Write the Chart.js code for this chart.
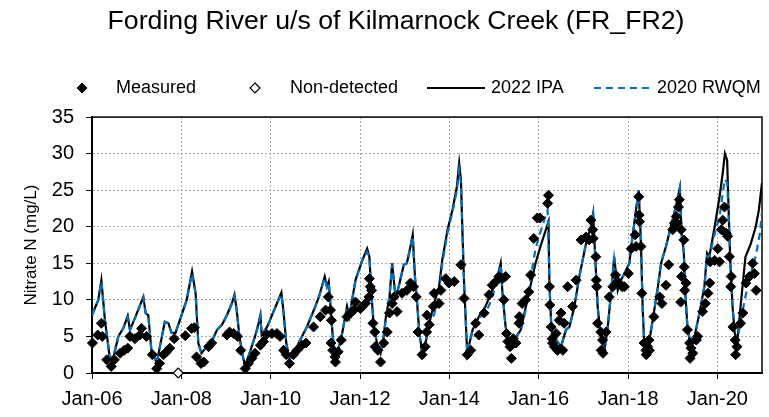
<!DOCTYPE html>
<html>
<head>
<meta charset="utf-8">
<script src="https://cdn.jsdelivr.net/npm/chart.js@4.4.1/dist/chart.umd.min.js"></script>
<style>
  html, body { margin: 0; padding: 0; background: #fff; }
</style>
</head>
<body>
<canvas id="nitrateChart" width="769" height="417"></canvas>
<script>
const FONT = "'Liberation Sans', Arial, sans-serif";

// x axis: decimal years, labelled every 2 years
const xTickYears  = [2006, 2008, 2010, 2012, 2014, 2016, 2018, 2020];
const xTickLabels = ['Jan-06', 'Jan-08', 'Jan-10', 'Jan-12', 'Jan-14', 'Jan-16', 'Jan-18', 'Jan-20'];

// 2022 IPA (solid black)
const ipaYears = [
  2006.00, 2006.14, 2006.21, 2006.29, 2006.40, 2006.48, 2006.59, 2006.70, 2006.80, 2006.85, 2006.96,
  2007.15, 2007.20, 2007.26, 2007.33, 2007.45, 2007.52, 2007.63, 2007.71, 2007.78, 2007.87,
  2008.12, 2008.24, 2008.32, 2008.38, 2008.45, 2008.57, 2008.68, 2008.80, 2008.91,
  2009.02, 2009.13, 2009.19, 2009.24, 2009.30, 2009.38, 2009.43, 2009.50, 2009.65, 2009.73, 2009.77, 2009.80, 2009.92,
  2010.14, 2010.24, 2010.29, 2010.35, 2010.42, 2010.55, 2010.66, 2010.81,
  2011.00, 2011.08, 2011.21, 2011.26, 2011.30, 2011.34, 2011.39, 2011.44, 2011.51, 2011.60, 2011.71, 2011.76, 2011.90,
  2012.05, 2012.16, 2012.21, 2012.26, 2012.31, 2012.38, 2012.46, 2012.53, 2012.58, 2012.66, 2012.72, 2012.78, 2012.83, 2012.90, 2012.98,
  2013.05, 2013.13, 2013.18, 2013.23, 2013.28, 2013.33, 2013.40, 2013.48, 2013.55, 2013.66, 2013.77, 2013.84, 2013.96,
  2014.07, 2014.17, 2014.22, 2014.26, 2014.29, 2014.33, 2014.37, 2014.40, 2014.52, 2014.66, 2014.81, 2014.93,
  2015.06, 2015.15, 2015.19, 2015.26, 2015.34, 2015.45, 2015.60, 2015.71, 2015.82, 2015.93,
  2016.05, 2016.22, 2016.24, 2016.28, 2016.31, 2016.39, 2016.50, 2016.61, 2016.69, 2016.80, 2016.91,
  2017.06, 2017.17, 2017.22, 2017.27, 2017.32, 2017.39, 2017.47, 2017.54, 2017.62, 2017.69, 2017.77, 2017.84, 2017.92,
  2018.03, 2018.10, 2018.18, 2018.24, 2018.29, 2018.33, 2018.36, 2018.40, 2018.48, 2018.56, 2018.67, 2018.74, 2018.85, 2018.96,
  2019.07, 2019.16, 2019.20, 2019.25, 2019.28, 2019.33, 2019.38, 2019.49, 2019.60, 2019.71, 2019.77, 2019.82, 2019.94,
  2020.05, 2020.12, 2020.17, 2020.22, 2020.25, 2020.29, 2020.34, 2020.39, 2020.45, 2020.52, 2020.63, 2020.75, 2020.86, 2020.93, 2021.00
];
const ipaValues = [
  7.9, 10.0, 12.7, 7.2, 2.0, 2.2, 5.0, 6.1, 7.8, 5.9, 7.5,
  10.4, 8.2, 7.9, 3.1, 1.4, 3.6, 7.0, 6.8, 5.5, 5.5,
  10.0, 13.9, 10.9, 4.1, 2.7, 3.6, 4.3, 5.9, 6.6,
  7.9, 9.5, 10.7, 8.6, 5.0, 2.2, 0.9, 2.2, 5.0, 6.8, 7.9, 5.2, 6.3,
  9.5, 11.0, 8.2, 4.1, 1.8, 3.1, 4.5, 6.3,
  9.1, 10.4, 13.2, 11.8, 12.5, 9.1, 5.0, 2.7, 3.1, 5.4, 9.1, 7.7, 12.7,
  15.4, 17.0, 15.9, 10.4, 6.3, 4.1, 2.7, 5.0, 7.7, 10.4, 15.0, 11.3, 10.9, 12.7, 14.8,
  15.0, 17.3, 18.9, 13.2, 9.5, 5.4, 2.5, 4.5, 6.8, 9.5, 11.8, 15.4, 19.6,
  22.3, 25.5, 28.7, 26.4, 20.0, 12.3, 6.8, 2.7, 5.9, 7.7, 9.1, 10.9,
  12.7, 15.0, 10.9, 6.3, 4.1, 4.5, 5.9, 9.0, 12.0, 15.0,
  17.5, 20.7, 12.3, 6.8, 5.0, 4.5, 3.6, 5.9, 6.3, 9.1, 13.2,
  17.7, 20.0, 21.8, 15.4, 9.1, 5.0, 3.1, 5.9, 10.9, 15.9, 11.3, 12.7, 13.6,
  15.0, 18.6, 22.3, 25.0, 17.7, 8.6, 4.5, 2.7, 4.5, 7.5, 11.8, 15.0, 17.3, 20.0,
  22.7, 25.3, 19.1, 16.4, 11.3, 6.3, 4.5, 5.0, 8.2, 11.8, 16.4, 15.9, 20.0,
  24.1, 27.3, 30.0, 29.1, 22.7, 15.4, 9.1, 5.4, 4.5, 9.1, 15.9, 17.7, 20.0, 22.3, 26.0
];

// 2020 RWQM (dashed blue)
const rwqmYears = [
  2006.00, 2006.14, 2006.21, 2006.29, 2006.40, 2006.48, 2006.59, 2006.70, 2006.80, 2006.85, 2006.96,
  2007.15, 2007.20, 2007.26, 2007.33, 2007.45, 2007.52, 2007.63, 2007.71, 2007.78, 2007.87,
  2008.12, 2008.24, 2008.32, 2008.38, 2008.45, 2008.57, 2008.68, 2008.80, 2008.91,
  2009.02, 2009.13, 2009.19, 2009.24, 2009.30, 2009.38, 2009.43, 2009.50, 2009.65, 2009.73, 2009.77, 2009.80, 2009.92,
  2010.14, 2010.24, 2010.29, 2010.35, 2010.42, 2010.55, 2010.66, 2010.81,
  2011.00, 2011.08, 2011.21, 2011.26, 2011.30, 2011.34, 2011.39, 2011.44, 2011.51, 2011.60, 2011.71, 2011.76, 2011.90,
  2012.05, 2012.16, 2012.21, 2012.26, 2012.31, 2012.38, 2012.46, 2012.53, 2012.58, 2012.66, 2012.72, 2012.78, 2012.83, 2012.90, 2012.98,
  2013.05, 2013.13, 2013.18, 2013.23, 2013.28, 2013.33, 2013.40, 2013.48, 2013.55, 2013.66, 2013.77, 2013.84, 2013.96,
  2014.07, 2014.17, 2014.22, 2014.26, 2014.29, 2014.33, 2014.37, 2014.40, 2014.52, 2014.66, 2014.81, 2014.93,
  2015.06, 2015.15, 2015.19, 2015.26, 2015.34, 2015.45, 2015.60, 2015.71, 2015.82, 2015.93,
  2016.05, 2016.20, 2016.24, 2016.28, 2016.31, 2016.39, 2016.50, 2016.61, 2016.69, 2016.80, 2016.91,
  2017.06, 2017.17, 2017.22, 2017.27, 2017.32, 2017.39, 2017.47, 2017.54, 2017.62, 2017.69, 2017.77, 2017.84, 2017.92,
  2018.03, 2018.10, 2018.18, 2018.24, 2018.29, 2018.33, 2018.36, 2018.40, 2018.48, 2018.56, 2018.67, 2018.74, 2018.85, 2018.96,
  2019.07, 2019.16, 2019.20, 2019.25, 2019.28, 2019.33, 2019.38, 2019.49, 2019.60, 2019.71, 2019.77, 2019.82, 2019.94,
  2020.05, 2020.12, 2020.17, 2020.22, 2020.25, 2020.29, 2020.34, 2020.39, 2020.45, 2020.52, 2020.63, 2020.75, 2020.86, 2020.95, 2021.00
];
const rwqmValues = [
  7.9, 10.0, 12.5, 7.2, 2.0, 2.2, 5.0, 6.1, 7.6, 5.9, 7.5,
  10.3, 8.2, 7.9, 3.1, 1.4, 3.6, 7.0, 6.8, 5.5, 5.5,
  10.0, 13.6, 10.9, 4.1, 2.7, 3.6, 4.3, 5.9, 6.6,
  7.9, 9.5, 10.5, 8.6, 5.0, 2.2, 0.9, 2.2, 5.0, 6.6, 7.7, 5.2, 6.3,
  9.5, 10.8, 8.2, 4.1, 1.8, 3.1, 4.5, 6.3,
  9.1, 10.4, 13.0, 11.8, 12.3, 9.1, 5.0, 2.7, 3.1, 5.4, 9.0, 7.7, 12.7,
  15.4, 16.6, 15.9, 10.4, 6.3, 4.1, 2.7, 5.0, 7.5, 10.4, 14.8, 11.3, 10.9, 12.7, 14.8,
  15.0, 17.3, 18.7, 13.2, 9.5, 5.4, 2.5, 4.5, 6.5, 8.0, 10.5, 14.8, 19.2,
  22.0, 25.0, 27.8, 26.0, 20.0, 12.3, 6.8, 2.7, 5.9, 7.5, 8.2, 9.8,
  12.4, 14.8, 10.9, 6.3, 4.1, 4.5, 5.9, 8.6, 13.0, 17.0,
  19.5, 22.3, 12.3, 6.8, 5.0, 4.5, 3.6, 5.9, 6.3, 9.1, 13.2,
  17.7, 20.0, 21.6, 15.4, 9.1, 5.0, 3.1, 5.9, 10.9, 15.6, 11.3, 12.7, 13.6,
  15.0, 18.6, 22.3, 25.0, 17.7, 8.6, 4.5, 2.7, 4.5, 7.5, 11.8, 15.0, 17.3, 20.0,
  22.7, 25.3, 19.1, 16.4, 11.3, 6.3, 4.5, 5.0, 8.2, 11.8, 16.0, 15.9, 19.0,
  21.4, 24.5, 26.5, 26.0, 22.0, 15.0, 9.1, 5.4, 4.5, 7.0, 10.5, 13.5, 16.0, 19.0, 22.0
];

// measured samples (filled diamonds)
const measuredYears = [
  2006.01, 2006.13, 2006.21, 2006.23, 2006.33, 2006.43, 2006.50, 2006.63, 2006.72, 2006.80, 2006.85, 2006.96,
  2007.07, 2007.11, 2007.22, 2007.35, 2007.45, 2007.51, 2007.60, 2007.67, 2007.74, 2007.84,
  2008.09, 2008.23, 2008.29, 2008.34, 2008.44, 2008.50, 2008.61, 2008.68,
  2009.02, 2009.08, 2009.17, 2009.26, 2009.33, 2009.43, 2009.50, 2009.58, 2009.65, 2009.77, 2009.84, 2009.91,
  2010.03, 2010.14, 2010.21, 2010.29, 2010.35, 2010.42, 2010.51, 2010.59, 2010.70, 2010.79, 2010.96,
  2011.11, 2011.23, 2011.29, 2011.34, 2011.36, 2011.35, 2011.39, 2011.44, 2011.45, 2011.51, 2011.58, 2011.71, 2011.79, 2011.86, 2011.90,
  2012.01, 2012.12, 2012.20, 2012.21, 2012.23, 2012.26, 2012.29, 2012.33, 2012.34, 2012.40, 2012.46, 2012.53, 2012.61, 2012.66, 2012.72, 2012.76, 2012.83, 2012.94,
  2013.05, 2013.13, 2013.20, 2013.26, 2013.30, 2013.39, 2013.46, 2013.49, 2013.50, 2013.55, 2013.64, 2013.66, 2013.77, 2013.81, 2013.92, 2013.99,
  2014.11, 2014.26, 2014.33, 2014.40, 2014.48, 2014.59, 2014.66, 2014.78, 2014.89, 2014.96,
  2015.04, 2015.11, 2015.19, 2015.22, 2015.26, 2015.28, 2015.31, 2015.36, 2015.39, 2015.43, 2015.49, 2015.56, 2015.57, 2015.63, 2015.71, 2015.78, 2015.82, 2015.89, 2015.97,
  2016.03, 2016.20, 2016.22, 2016.24, 2016.25, 2016.28, 2016.30, 2016.31, 2016.35, 2016.39, 2016.42, 2016.46, 2016.50, 2016.54, 2016.57, 2016.65, 2016.76, 2016.84, 2016.95,
  2017.06, 2017.13, 2017.17, 2017.21, 2017.22, 2017.28, 2017.29, 2017.30, 2017.32, 2017.39, 2017.40, 2017.43, 2017.44, 2017.51, 2017.58, 2017.66, 2017.72, 2017.77, 2017.87, 2017.92,
  2018.01, 2018.07, 2018.16, 2018.18, 2018.24, 2018.25, 2018.26, 2018.29, 2018.31, 2018.36, 2018.40, 2018.41, 2018.44, 2018.47, 2018.48, 2018.58, 2018.71, 2018.76, 2018.85, 2018.91,
  2019.00, 2019.04, 2019.08, 2019.10, 2019.13, 2019.15, 2019.19, 2019.20, 2019.18, 2019.25, 2019.26, 2019.27, 2019.30, 2019.33, 2019.38, 2019.39, 2019.41, 2019.45, 2019.53, 2019.56, 2019.67, 2019.73, 2019.79, 2019.83, 2019.84, 2019.94,
  2020.01, 2020.05, 2020.09, 2020.12, 2020.16, 2020.20, 2020.23, 2020.27, 2020.30, 2020.31, 2020.35, 2020.40, 2020.41, 2020.44, 2020.52, 2020.57, 2020.64, 2020.72, 2020.79, 2020.83, 2020.87
];
const measuredValues = [
  4.1, 5.2, 6.8, 5.0, 1.8, 0.9, 1.8, 2.7, 3.1, 3.4, 5.0, 4.7,
  5.2, 6.1, 5.0, 2.5, 0.6, 1.3, 2.5, 2.9, 3.4, 4.7,
  5.1, 6.1, 6.2, 2.2, 1.3, 1.5, 3.6, 4.1,
  5.2, 5.6, 5.4, 5.0, 3.1, 0.6, 1.3, 2.0, 2.7, 3.8, 4.3, 5.3,
  5.4, 5.4, 5.0, 3.1, 2.5, 1.3, 2.5, 3.1, 3.8, 4.1, 6.3,
  7.7, 8.6, 10.4, 8.6, 7.2, 4.1, 3.1, 2.2, 1.5, 2.9, 4.5, 7.7, 8.2, 8.6, 9.7,
  8.8, 9.5, 10.4, 12.9, 11.8, 11.3, 6.8, 5.6, 3.6, 3.1, 1.5, 4.1, 5.6, 8.2, 9.5, 10.4, 8.4, 10.9,
  11.3, 12.3, 11.8, 10.4, 5.6, 2.5, 3.6, 5.6, 7.9, 6.6, 9.1, 10.9, 9.5, 11.3, 12.9, 12.3,
  12.5, 14.8, 10.2, 2.5, 3.1, 6.8, 5.2, 8.2, 10.7, 12.0,
  12.5, 13.2, 12.9, 10.0, 13.2, 5.4, 4.3, 3.6, 2.0, 4.7, 4.1, 6.8, 7.7, 9.5, 10.0, 11.1, 13.4, 18.4, 21.2,
  21.2, 23.2, 24.3, 11.8, 9.3, 6.3, 4.7, 4.1, 3.6, 5.4, 3.1, 7.2, 8.2, 3.1, 6.8, 11.8, 9.1, 12.7, 18.2,
  18.6, 18.2, 20.9, 19.6, 18.4, 15.9, 12.7, 11.8, 6.8, 5.6, 3.1, 4.5, 2.7, 5.6, 10.4, 11.8, 13.4, 12.5, 11.8, 11.8,
  13.6, 17.0, 18.9, 17.3, 24.1, 21.6, 20.7, 17.3, 10.9, 4.1, 3.1, 2.5, 3.6, 4.5, 3.1, 7.7, 10.4, 9.5, 12.0, 14.8,
  19.6, 20.5, 21.4, 20.5, 22.7, 23.7, 19.6, 13.2, 9.7, 18.2, 14.5, 11.3, 12.3, 5.9, 4.1, 2.0, 3.4, 2.7, 4.5, 5.0, 8.4, 9.5, 10.9, 12.3, 15.2, 15.4,
  17.0, 15.2, 19.6, 20.9, 22.7, 19.1, 18.7, 15.9, 11.8, 13.2, 6.3, 4.5, 2.5, 3.6, 6.8, 8.2, 12.3, 13.2, 15.0, 13.6, 11.3
];

// non-detected sample (open diamond)
const nondetYears  = [2007.93];
const nondetValues = [0.0];

const toPoints = (xs, ys) => xs.map((x, i) => ({ x, y: ys[i] }));

function diamondPath(c, x, y, r) {
  c.beginPath();
  c.moveTo(x, y - r); c.lineTo(x + r, y); c.lineTo(x, y + r); c.lineTo(x - r, y);
  c.closePath();
}

// plot area frame (top / right sides as well)
const plotFrame = {
  id: 'plotFrame',
  beforeDatasetsDraw(chart) {
    const { left, top, right, bottom } = chart.chartArea;
    const c = chart.ctx;
    c.save();
    c.strokeStyle = '#000';
    c.lineWidth = 1.5;
    c.strokeRect(left, top, right - left, bottom - top);
    c.restore();
  }
};

// legend row laid out like the original one
const legendSpec = [
  { ds: 0, mark: 82,  text: 116 },
  { ds: 1, mark: 255, text: 290 },
  { ds: 2, from: 427, to: 485, text: 491 },
  { ds: 3, from: 594, to: 652, text: 657 }
];
const legendRow = {
  id: 'legendRow',
  afterDraw(chart) {
    const c = chart.ctx, y = 88;
    c.save();
    legendSpec.forEach(it => {
      const ds = chart.data.datasets[it.ds];
      if (it.mark != null) {
        diamondPath(c, it.mark, y, ds.pointRadius);
        c.fillStyle = ds.backgroundColor;
        c.fill();
        c.lineWidth = ds.borderWidth;
        c.strokeStyle = ds.borderColor;
        c.stroke();
      } else {
        c.beginPath();
        c.setLineDash(ds.borderDash || []);
        c.lineWidth = ds.borderWidth;
        c.strokeStyle = ds.borderColor;
        c.moveTo(it.from, y); c.lineTo(it.to, y);
        c.stroke();
        c.setLineDash([]);
      }
      c.font = `18px ${FONT}`;
      c.fillStyle = '#000';
      c.textBaseline = 'middle';
      c.textAlign = 'left';
      c.fillText(ds.label, it.text, y);
    });
    c.restore();
  }
};

const gridStyle = { color: '#a6a6a6', lineWidth: 1, tickColor: '#000', tickLength: 6, tickWidth: 1 };
const borderStyle = { color: '#000', width: 2, dash: [2, 2] };

new Chart(document.getElementById('nitrateChart'), {
  type: 'scatter',
  data: {
    datasets: [
      {
        label: 'Measured',
        data: toPoints(measuredYears, measuredValues),
        pointStyle: 'rectRot', pointRadius: 5,
        backgroundColor: '#000', borderColor: '#000', borderWidth: 1,
        showLine: false, clip: false, order: 0
      },
      {
        label: 'Non-detected',
        data: toPoints(nondetYears, nondetValues),
        pointStyle: 'rectRot', pointRadius: 5,
        backgroundColor: '#fff', borderColor: '#000', borderWidth: 1.2,
        showLine: false, clip: false, order: 1
      },
      {
        label: '2022 IPA',
        data: toPoints(ipaYears, ipaValues),
        showLine: true, borderColor: '#000', backgroundColor: '#000', borderWidth: 2.2,
        pointRadius: 0, tension: 0, order: 3
      },
      {
        label: '2020 RWQM',
        data: toPoints(rwqmYears, rwqmValues),
        showLine: true, borderColor: '#0070C0', backgroundColor: '#0070C0', borderWidth: 2.2,
        borderDash: [7, 5], pointRadius: 0, tension: 0, order: 2
      }
    ]
  },
  options: {
    responsive: false,
    animation: false,
    events: [],
    layout: { padding: { left: 30, right: 7, top: 0, bottom: 0 } },
    font: { family: FONT },
    plugins: {
      legend: { display: false },
      tooltip: { enabled: false },
      title: {
        display: true,
        text: 'Fording River u/s of Kilmarnock Creek (FR_FR2)',
        color: '#000',
        font: { family: FONT, size: 26.7, weight: 'normal' },
        padding: { top: 6, bottom: 79 }
      }
    },
    scales: {
      x: {
        type: 'linear',
        min: 2006, max: 2021,
        afterBuildTicks: s => { s.ticks = xTickYears.map(v => ({ value: v })); },
        afterFit: s => { s.height = 44; },
        ticks: {
          autoSkip: false, maxRotation: 0, padding: 8, color: '#000',
          font: { family: FONT, size: 20 },
          callback: v => xTickLabels[xTickYears.indexOf(v)]
        },
        grid: gridStyle,
        border: borderStyle
      },
      y: {
        min: 0, max: 35,
        afterFit: s => { s.width = 62; },
        ticks: { stepSize: 5, padding: 12, color: '#000', font: { family: FONT, size: 20 } },
        title: {
          display: true, text: 'Nitrate N (mg/L)', color: '#000',
          font: { family: FONT, size: 17 },
          padding: { top: -9, bottom: 0 }
        },
        grid: gridStyle,
        border: borderStyle
      }
    }
  },
  plugins: [plotFrame, legendRow]
});
</script>
</body>
</html>
